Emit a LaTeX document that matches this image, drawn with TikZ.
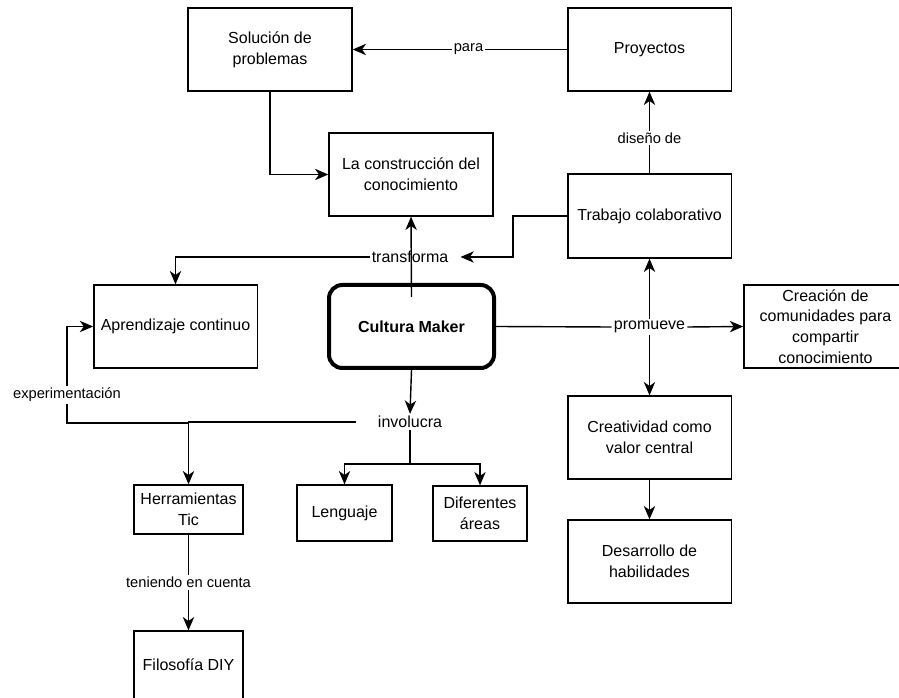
\documentclass[tikz,border=0pt]{standalone}
\usepackage{fontspec}
\setmainfont{Liberation Sans}
\usetikzlibrary{arrows.meta,calc}
\begin{document}
\begin{tikzpicture}[x=0.75pt,y=-0.75pt,
  box/.style={draw,line width=1pt,inner sep=0pt,align=center,fill=white,
    font=\fontsize{12}{15.5}\selectfont,minimum width=122.5pt,minimum height=62.25pt},
  lbl/.style={fill=white,inner sep=1.5pt,font=\fontsize{12}{14}\selectfont},
  slbl/.style={fill=white,inner sep=1.5pt,font=\fontsize{11}{13}\selectfont},
  conn/.style={line width=1.05pt},
  arr/.style={conn,-{Stealth[length=10pt,width=8.5pt,inset=3pt]}}]
\useasboundingbox (0,0) rectangle (899,698);
\clip (0,0) rectangle (899,698);
\fill[white] (0,0) rectangle (899,698);

% boxes
\node[box,minimum width=123pt] (sol) at (270,49.5) {Solución de\\problemas};
\node[box] (proy) at (649.5,49.5) {Proyectos};
\node[box,minimum width=123pt] (cons) at (411,174.5) {La construcción del\\conocimiento};
\node[box,minimum height=63pt] (trab) at (649.5,216) {Trabajo colaborativo};
\node[box] (apr) at (175.5,326.5) {Aprendizaje continuo};
\node[box,line width=3pt,rounded corners=10pt,minimum width=123.75pt,font=\fontsize{12}{14}\selectfont\bfseries] (cm) at (411.5,326.5) {Cultura Maker};
\node[box] (crea) at (825.5,326.5) {Creación de\\comunidades para\\compartir\\conocimiento};
\node[box] (creat) at (649.5,437.5) {Creatividad como\\valor central};
\node[box] (des) at (649.5,561.5) {Desarrollo de\\habilidades};
\node[box,minimum width=81.75pt,minimum height=36.75pt] (herr) at (188.5,509.5) {Herramientas\\Tic};
\node[box,minimum width=71.25pt,minimum height=42pt] (len) at (344.5,513) {Lenguaje};
\node[box,minimum width=70.5pt,minimum height=41.25pt] (dif) at (480,513.5) {Diferentes\\áreas};
\node[box,minimum width=81.75pt,minimum height=50.6pt] (filo) at (188.5,664.75) {Filosofía DIY};

% labels
\node[lbl] (tf) at (410,257) {transforma};
\node[lbl] (inv) at (410,422) {involucra};
\node[lbl] (prom) at (649.5,327) {promueve};
\node[slbl] (exp) at (67,395) {experimentación};
\coordinate (expstart) at (188,423);
\coordinate (invsplit) at (410,464);

% connectors
\draw[arr] (proy.west) -- node[slbl,pos=0.46]{para} (sol.east);
\draw[arr] (trab.north) -- node[slbl,pos=0.434]{diseño de} (proy.south);
\draw[arr] (sol.south) |- (cons.west);
\draw[arr] (tf.west) -| (apr.north);
\draw[arr] (trab.west) -- ($(trab.west)+(-54,0)$) |- ($(tf.east)+(10,0)$);
\draw[arr] ($(cm.north)+(0,14)$) -- (cons.south);
\draw[arr] (cm.south) -- (inv.north);
\draw[arr] ($(inv.west)+(-20,0)$) -| (herr.north);
\draw[conn] (expstart) -| (exp.south);
\draw[arr] (exp.north) |- (apr.west);
\draw[conn] (inv.south) -- (invsplit);
\draw[arr] (invsplit) -| (len.north);
\draw[arr] (invsplit) -| (dif.north);
\draw[arr] (herr.south) -- node[slbl]{teniendo en cuenta} (filo.north);
\draw[conn] (cm.east) -- (prom.west);
\draw[arr] (prom.east) -- (crea.west);
\draw[arr] (prom.north) -- (trab.south);
\draw[arr] (prom.south) -- (creat.north);
\draw[arr] (creat.south) -- (des.north);
\end{tikzpicture}
\end{document}
